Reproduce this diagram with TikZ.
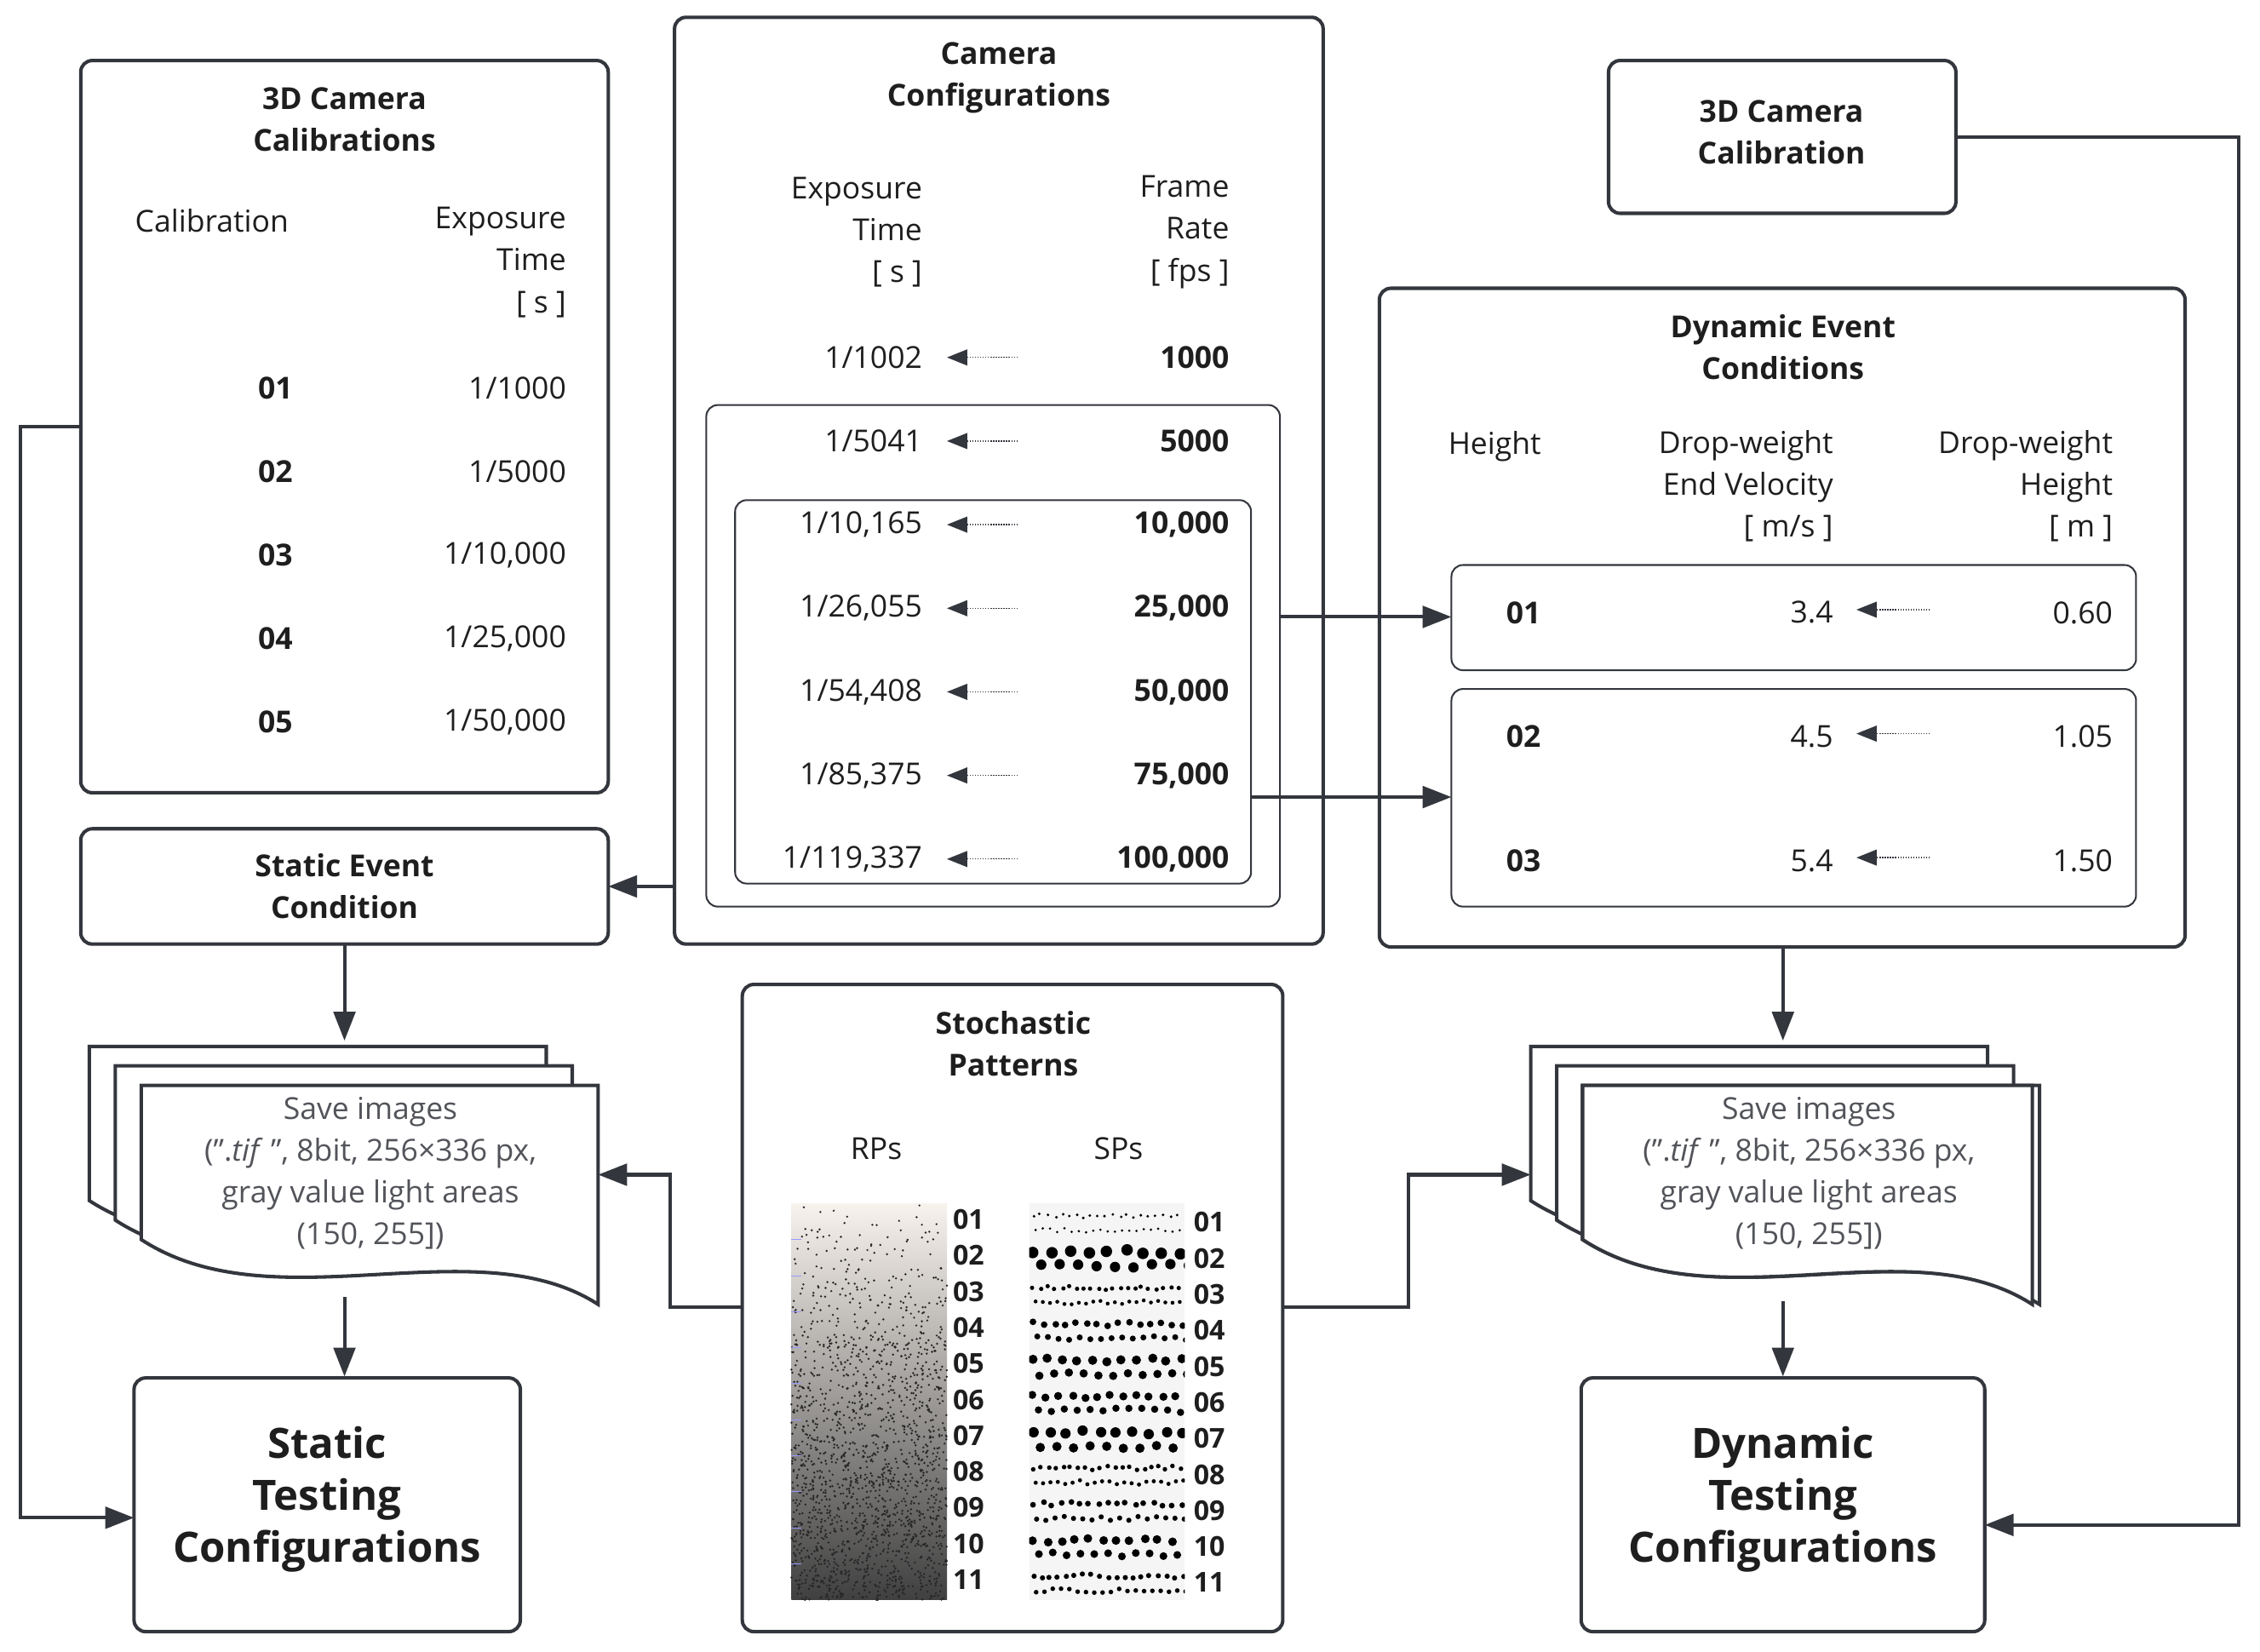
\documentclass[tikz,border=0pt]{standalone}
\usepackage{fontspec}
\setmainfont{Open Sans}
\usetikzlibrary{arrows.meta,calc}
\definecolor{ln}{HTML}{33363D}
\definecolor{tx}{HTML}{1E1E1E}
\begin{document}
\begin{tikzpicture}[x=1pt,y=-1pt,
  box/.style={draw=ln,line width=2.4pt,rounded corners=8pt},
  ibox/.style={draw=ln,line width=1.2pt,rounded corners=8pt},
  t/.style={font=\fontsize{21}{25}\selectfont,text=tx,inner sep=0},
  tb/.style={t,font=\fontsize{21}{25}\selectfont\bfseries},
  big/.style={font=\fontsize{29}{36}\selectfont\bfseries,text=tx,align=center},
  con/.style={draw=ln,line width=2.4pt,-{Triangle[length=20pt,width=15pt]}},
  sm/.style={draw=ln,line width=0.8pt,densely dotted,-{Triangle[length=14pt,width=11pt]}},
  doc/.style={draw=ln,line width=2.4pt,fill=white}]
\useasboundingbox (0,0) rectangle (1568,1146);
% boxes
\draw[box] (56,42) rectangle (422,550) coordinate (cal);
\node[tb,align=center] at (239,83) {3D Camera\\[4pt]Calibrations};
\node[t] at (147,153) {Calibration};
\node[t,anchor=east,align=right] at (393,182) {Exposure\\[4pt]Time\\[4pt][ s ]};
\foreach \id/\v [count=\k] in {01/{1/1000},02/{1/5000},03/{1/10,000},04/{1/25,000},05/{1/50,000}}{
  \node[tb] at (191,211+58*\k) {\id};
  \node[t,anchor=east] at (393,211+58*\k) {\v};}
\draw[box] (56,575) rectangle (422,655);
\node[tb,align=center] (sec) at (239,615) {Static Event\\[4pt]Condition};
\draw[box] (468,12) rectangle (918,655);
\node[tb,align=center] at (693,54) {Camera\\[4pt]Configurations};
\node[t,anchor=east,align=right] at (640,161) {Exposure\\[4pt]Time\\[4pt][ s ]};
\node[t,anchor=east,align=right] at (853,161) {Frame\\[4pt]Rate\\[4pt][ fps ]};
\draw[ibox] (490,281) rectangle (888,629);
\draw[ibox] (510,347) rectangle (868,613);
\foreach \a/\b [count=\k] in {{1/1002}/1000,{1/5041}/5000,{1/10,165}/{10,000},{1/26,055}/{25,000},{1/54,408}/{50,000},{1/85,375}/{75,000},{1/119,337}/{100,000}}{
  \node[t,anchor=east] at (640,190+58*\k) {\a};
  \node[tb,anchor=east] at (853,190+58*\k) {\b};
  \draw[sm] (706,190+58*\k) -- (657,190+58*\k);}
\draw[box] (1116,42) rectangle (1357,148);
\node[tb,align=center] at (1236,92) {3D Camera\\[4pt]Calibration};
\draw[box] (957,200) rectangle (1516,657);
\node[tb,align=center] at (1237,241) {Dynamic Event\\[4pt]Conditions};
\node[t] at (1037,310) {Height};
\node[t,anchor=east,align=right] at (1272,337) {Drop-weight\\[4pt]End Velocity\\[4pt][ m/s ]};
\node[t,anchor=east,align=right] at (1466,337) {Drop-weight\\[4pt]Height\\[4pt][ m ]};
\draw[ibox] (1007,392) rectangle (1482,465);
\draw[ibox] (1007,478) rectangle (1482,629);
\foreach \id/\v/\h/\y in {01/3.4/0.60/425,02/4.5/1.05/511,03/5.4/1.50/597}{
  \node[tb] at (1057,\y) {\id};
  \node[t,anchor=east] at (1272,\y) {\v};
  \node[t,anchor=east] at (1466,\y) {\h};
  \draw[sm] (1339,\y-2) -- (1288,\y-2);}
% connectors
\draw[con] (888,428) -- (1007,428);
\draw[con] (868,553) -- (1007,553);
\draw[con] (468,615) -- (422,615);
\draw[con] (239,655) -- (239,722);
\draw[con] (1237,657) -- (1237,722);
\draw[con] (56,296) -- (14,296) -- (14,1053) -- (93,1053);
\draw[con] (1357,95) -- (1553,95) -- (1553,1058) -- (1377,1058);
% documents
\foreach \dx in {0,1000}{
 \begin{scope}[xshift=\dx]
 \foreach \o in {36,18,0}{
  \path[doc] (98-\o,753-\o*0.75) -- (415-\o,753-\o*0.75) -- (415-\o,905-\o*0.75)
    .. controls (330-\o,850-\o*0.75) and (190-\o,920-\o*0.75) .. (98-\o,860-\o*0.75) -- cycle;}
 \end{scope}}
\draw[doc] (1098,753) -- (1410,753) -- (1410,905) .. controls (1325,850) and (1190,920) .. (1098,860) -- cycle;
\node[t,align=center,text=ln!85] at (257,814) {Save images\\[4pt](".\textit{tif} ", 8bit, 256×336 px,\\[4pt]gray value light areas\\[4pt](150, 255])};
\node[t,align=center,text=ln!85] at (1255,814) {Save images\\[4pt](".\textit{tif} ", 8bit, 256×336 px,\\[4pt]gray value light areas\\[4pt](150, 255])};
\draw[con] (239,900) -- (239,955);
\draw[con] (1237,903) -- (1237,955);
\draw[box] (93,956) rectangle (361,1132);
\node[big] at (227,1040) {Static\\Testing\\Configurations};
\draw[box] (1097,956) rectangle (1377,1132);
\node[big] at (1237,1040) {Dynamic\\Testing\\Configurations};
% stochastic patterns
\draw[box] (515,683) rectangle (890,1132);
\node[tb,align=center] at (703,724) {Stochastic\\[4pt]Patterns};
\node[t] at (608,797) {RPs};
\node[t] at (776,797) {SPs};
\draw[con] (515,907) -- (465,907) -- (465,815) -- (415,815);
\draw[con] (890,907) -- (977,907) -- (977,815) -- (1062,815);
\shade[top color=gray!18!brown!10,bottom color=black!75] (549,835) rectangle (657,1110);
\pgfmathsetseed{7}
\foreach \i in {1,...,1800}{
  \pgfmathsetmacro\yy{835+275*rnd^0.55}
  \fill[black!85] (549+108*rnd,\yy) circle (0.8);}
\foreach \k in {1,...,10}{\draw[blue!40,line width=0.5pt] (549,835+25*\k) -- (556,835+25*\k);}
\fill[gray!8] (714,835) rectangle (822,1110);
\begin{scope}
\clip (714,835) rectangle (822,1110);
\foreach \r [count=\k] in {1,4,1.5,2.3,3.2,2.8,3.6,1.6,2,3,1.8}{
  \pgfmathsetmacro\sp{max(3.2*\r,5)}
  \foreach \xx in {0,\sp,...,104}{
    \fill[black] (716+\xx+rnd*2,835+25*\k-18+rnd*3) circle (\r);
    \fill[black] (716+\xx+\sp/2,835+25*\k-8+rnd*3) circle (\r*0.9);}}
\end{scope}
\foreach \k in {1,...,11}{
  \node[tb,font=\fontsize{19}{22}\selectfont\bfseries] at (672,821+25*\k) {\ifnum\k<10 0\fi\k};
  \node[tb,font=\fontsize{19}{22}\selectfont\bfseries] at (839,823+25*\k) {\ifnum\k<10 0\fi\k};}
\end{tikzpicture}
\end{document}
